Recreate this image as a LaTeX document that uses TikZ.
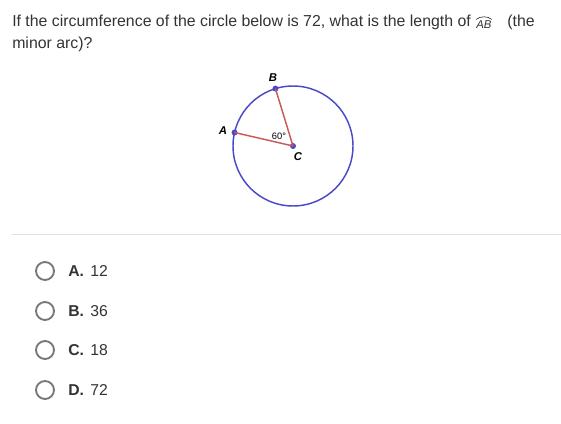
\documentclass[tikz,border=0pt]{standalone}
\usepackage{fontspec}
\setmainfont{Liberation Sans}
\usetikzlibrary{positioning,calc}
\definecolor{txt}{HTML}{333333}
\definecolor{circblue}{HTML}{4A4AC8}
\definecolor{radred}{HTML}{C85A5A}
\definecolor{optgray}{HTML}{777777}
\definecolor{sepgray}{HTML}{E0E0E0}
\begin{document}
\begin{tikzpicture}[x=0.75pt,y=-0.75pt,
  qtext/.style={inner sep=0pt,anchor=base west,text=txt,font=\fontsize{11.9}{15}\selectfont},
  ptlabel/.style={inner sep=0pt,text=black,font=\fontsize{8.5}{10}\selectfont\bfseries\itshape},
  pt/.style={circle,fill=circblue,inner sep=0pt,minimum size=4.5pt},
  radius line/.style={radred,line width=1.1pt},
  opt/.style={circle,draw=optgray,line width=1.4pt,minimum size=13.5pt,inner sep=0pt},
  optletter/.style={inner sep=0pt,anchor=base west,text=txt,font=\fontsize{11.8}{14}\selectfont\bfseries},
  optval/.style={inner sep=0pt,anchor=base west,text=txt,font=\fontsize{11.8}{14}\selectfont}]
\useasboundingbox (0,0) rectangle (561,424);
% question
\node[qtext] (q1) at (12,27) {If the circumference of the circle below is 72, what is the length of};
\node[inner sep=0pt,anchor=base west,text=txt,font=\fontsize{8.5}{10}\selectfont\itshape] (ab) at ($(q1.base east)+(5,2)$) {AB};
\draw[txt,line width=0.5pt] ($(ab.north west)+(0,-1.5)$) .. controls ($(ab.north west)+(4,-5)$) and ($(ab.north east)+(-4,-5)$) .. ($(ab.north east)+(0,-1.5)$);
\node[qtext] (q2) at ($(q1.base east)+(36,0)$) {(the};
\node[qtext] (q3) at (12,49) {minor arc)?};
% diagram
\coordinate (C) at (293,146);
\draw[circblue,line width=1.1pt] (C) circle[radius=60];
\node[pt] (Bp) at ($(C)+(-107:60)$) {};
\node[pt] (Ap) at ($(C)+(-167:60)$) {};
\node[pt] (Cp) at (C) {};
\draw[radius line] (Ap.center) -- (Cp.center);
\draw[radius line] (Bp.center) -- (Cp.center);
\node[ptlabel] (lB) at (273,78) {B};
\node[ptlabel] (lA) at (223,131) {A};
\node[ptlabel] (lC) at (298,157) {C};
\node[inner sep=0pt,text=black,font=\fontsize{7}{8}\selectfont] (ang) at (279,136) {60°};
% separator
\coordinate (s1) at (12,234);
\coordinate (s2) at (561,234);
\draw[sepgray,line width=0.6pt] (s1) -- (s2);
% options
\foreach \y/\l/\v [count=\i] in {271/A/12,311/B/36,350/C/18,390/D/72}{
  \node[opt] (o\i) at (45,\y) {};
  \node[optletter] (ol\i) at (68,\y+5.5) {\l.};
  \node[optval] (ov\i) at (90,\y+5.5) {\v};
}
\end{tikzpicture}
\end{document}
